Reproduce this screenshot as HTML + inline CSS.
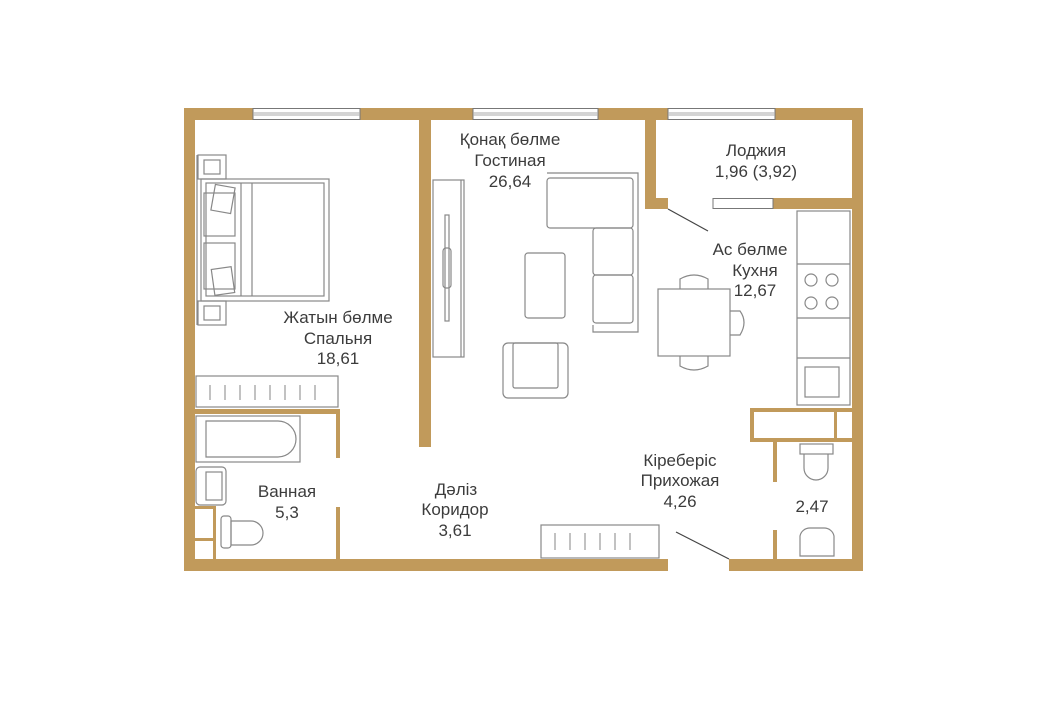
<!DOCTYPE html>
<html><head><meta charset="utf-8"><style>
body{margin:0;background:#fff;width:1063px;height:709px;overflow:hidden}
svg{display:block}
text{font-family:"Liberation Sans",sans-serif;font-size:17px;fill:#3c3c3c;text-anchor:middle}
</style></head><body>
<svg width="1063" height="709" viewBox="0 0 1063 709">
<g fill="#c19a5b">
<rect x="184" y="108" width="679" height="12"/>
<rect x="184" y="108" width="11" height="463"/>
<rect x="852" y="108" width="11" height="463"/>
<rect x="184" y="559" width="484" height="12"/>
<rect x="729" y="559" width="134" height="12"/>
<rect x="419" y="108" width="12" height="339"/>
<rect x="645" y="108" width="11" height="101"/>
<rect x="645" y="198" width="23" height="11"/>
<rect x="773" y="198" width="80" height="11"/>
<rect x="195" y="409" width="145" height="5"/>
<rect x="336" y="409" width="4" height="49"/>
<rect x="336" y="507" width="4" height="52"/>
<rect x="195" y="506" width="21" height="3"/>
<rect x="213" y="506" width="3" height="53"/>
<rect x="195" y="538" width="21" height="3"/>
<rect x="750" y="408" width="103" height="4"/>
<rect x="750" y="438" width="103" height="4"/>
<rect x="750" y="408" width="4" height="34"/>
<rect x="834" y="408" width="3" height="34"/>
<rect x="773" y="442" width="4" height="40"/>
<rect x="773" y="530" width="4" height="29"/>
</g>
<g fill="#fff" stroke="#777" stroke-width="1">
<rect x="253" y="108.5" width="107" height="11"/>
<rect x="473" y="108.5" width="125" height="11"/>
<rect x="668" y="108.5" width="107" height="11"/>
<rect x="713" y="198.5" width="60" height="10"/>
</g>
<g stroke="#aaa" stroke-width="1">
<line x1="253" y1="113" x2="360" y2="113"/><line x1="253" y1="115" x2="360" y2="115"/>
<line x1="473" y1="113" x2="598" y2="113"/><line x1="473" y1="115" x2="598" y2="115"/>
<line x1="668" y1="113" x2="775" y2="113"/><line x1="668" y1="115" x2="775" y2="115"/>
</g>
<g stroke="#444" stroke-width="1.2">
<line x1="668" y1="209" x2="708" y2="231"/>
<line x1="676" y1="532" x2="729" y2="559"/>
</g>
<g fill="none" stroke="#888" stroke-width="1.2">
<rect x="198" y="155" width="28" height="24"/><rect x="204" y="160" width="16" height="14"/>
<rect x="198" y="301" width="28" height="24"/><rect x="204" y="306" width="16" height="14"/>
<line x1="197" y1="155" x2="197" y2="325"/>
<rect x="201" y="179" width="128" height="122"/>
<rect x="206" y="183" width="118" height="113"/>
<line x1="241" y1="183" x2="241" y2="296"/><line x1="252" y1="183" x2="252" y2="296"/>
<rect x="204" y="193" width="31" height="43"/><rect x="204" y="243" width="31" height="46"/>
<rect x="213" y="186" width="20" height="26" transform="rotate(10 223 199)"/>
<rect x="213" y="268" width="20" height="26" transform="rotate(-8 223 281)"/>
<rect x="196" y="376" width="142" height="31"/>
<path d="M210 385v15M225 385v15M240 385v15M255 385v15M270 385v15M285 385v15M300 385v15M315 385v15" stroke="#999"/>
<rect x="196" y="416" width="104" height="46"/>
<path d="M206 421h72a17 17 0 0 1 0 36h-72z"/>
<rect x="196" y="467" width="30" height="38" rx="4"/><rect x="206" y="472" width="16" height="28"/>
<rect x="221" y="516" width="10" height="32" rx="3"/>
<path d="M231 521h20a12 12 0 0 1 0 24h-20z"/>
<rect x="433" y="180" width="31" height="177"/>
<line x1="461" y1="180" x2="461" y2="357"/>
<rect x="445" y="215" width="4" height="106"/><rect x="443" y="248" width="8" height="40" rx="3"/>
<path d="M547 173h91v159h-45v-7"/>
<rect x="547" y="178" width="86" height="50" rx="3"/>
<rect x="593" y="228" width="40" height="47" rx="3"/>
<rect x="593" y="275" width="40" height="48" rx="3"/>
<rect x="525" y="253" width="40" height="65" rx="3"/>
<rect x="503" y="343" width="65" height="55" rx="5"/>
<rect x="513" y="343" width="45" height="45" rx="2"/>
<rect x="541" y="525" width="118" height="33"/>
<path d="M555 533v17M570 533v17M585 533v17M600 533v17M615 533v17M630 533v17" stroke="#999"/>
<rect x="658" y="289" width="72" height="67"/>
<path d="M680 289v-10q14-8 28 0v10M680 356v10q14 8 28 0v-10M730 311h10q8 11 0 24h-10"/>
<rect x="797" y="211" width="53" height="194"/>
<line x1="797" y1="264" x2="850" y2="264"/><line x1="797" y1="318" x2="850" y2="318"/>
<line x1="797" y1="358" x2="850" y2="358"/>
<circle cx="811" cy="280" r="6"/><circle cx="832" cy="280" r="6"/>
<circle cx="811" cy="303" r="6"/><circle cx="832" cy="303" r="6"/>
<rect x="805" y="367" width="34" height="30"/>
<rect x="800" y="444" width="33" height="10"/>
<path d="M804 454v14a12 12 0 0 0 24 0v-14"/>
<path d="M800 556v-20a10 10 0 0 1 10-8h14a10 10 0 0 1 10 8v20z"/>
</g>
<text x="510" y="145">Қонақ бөлме</text>
<text x="510" y="166">Гостиная</text>
<text x="510" y="187">26,64</text>
<text x="756" y="156">Лоджия</text>
<text x="756" y="177">1,96 (3,92)</text>
<text x="750" y="255">Ас бөлме</text>
<text x="755" y="276">Кухня</text>
<text x="755" y="296">12,67</text>
<text x="338" y="323">Жатын бөлме</text>
<text x="338" y="344">Спальня</text>
<text x="338" y="364">18,61</text>
<text x="287" y="497">Ванная</text>
<text x="287" y="518">5,3</text>
<text x="456" y="495">Дәліз</text>
<text x="455" y="515">Коридор</text>
<text x="455" y="536">3,61</text>
<text x="680" y="466">Кіреберіс</text>
<text x="680" y="486">Прихожая</text>
<text x="680" y="507">4,26</text>
<text x="812" y="512">2,47</text>
</svg>
</body></html>
